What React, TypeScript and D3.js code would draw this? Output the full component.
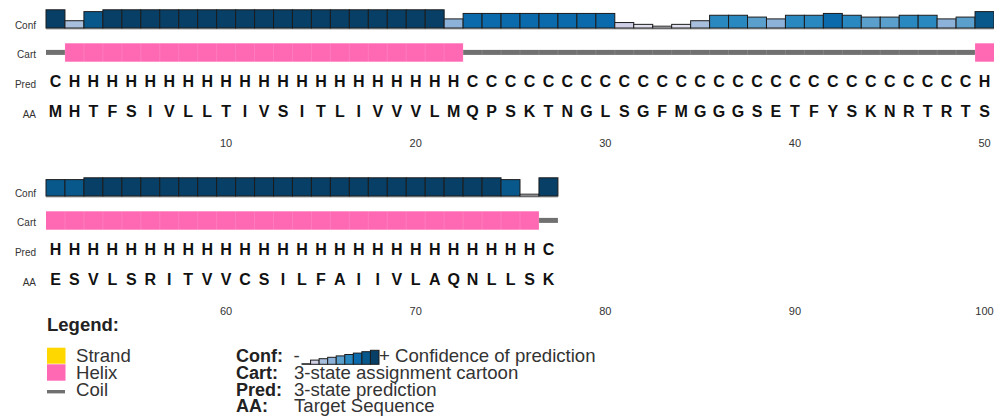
import React from "react";
import * as d3 from "d3";

// Target sequence, 3-state prediction (H helix, E strand, C coil) and per-residue confidence 0-9
const SEQUENCE = "MHTFSIVLLTIVSITLIVVVLMQPSKTNGLSGFMGGGSETFYSKNRTRTSESVLSRITVVCSILFAIIVLAQNLLSK".split("");
const PREDICTION = "CHHHHHHHHHHHHHHHHHHHHHCCCCCCCCCCCCCCCCCCCCCCCCCCCHHHHHHHHHHHHHHHHHHHHHHHHHHHC".split("");
const CONFIDENCE = [
  9, 3, 8, 9, 9, 9, 9, 9, 9, 9, 9, 9, 9, 9, 9, 9, 9, 9, 9, 9, 9, 4, 7, 7, 7, 7, 7, 7, 7, 7,
  2, 1, 0, 1, 3, 6, 6, 5, 4, 6, 6, 7, 6, 5, 5, 6, 6, 4, 5, 8,
  8, 8, 9, 9, 9, 9, 9, 9, 9, 9, 9, 9, 9, 9, 9, 9, 9, 9, 9, 9, 9, 9, 9, 9, 8, 0, 9,
];
const ROW_LENGTH = 50;
const TICK_STEP = 10;
const LEGEND_LEVELS = [0, 2, 3, 4, 5, 6, 7, 8, 9];

const CONF_COLOURS = [
  "#f2f0f7", "#e2e1ef", "#cfd0e5", "#a7bedd", "#8db2d9",
  "#5b9fcd", "#2a88c1", "#0b6aab", "#08588c", "#073f66",
];
const HELIX = "#ff69b4";
const STRAND = "#ffd700";
const COIL = "#707070";
const FONT = "'Liberation Sans', Arial, Helvetica, sans-serif";

const W = 994;
const H = 418;
const ROW_OFFSET = 168;

const x = d3
  .scaleBand<number>()
  .domain(d3.range(1, ROW_LENGTH + 1))
  .range([46, W])
  .paddingInner(0)
  .paddingOuter(0);
const bw = x.bandwidth();
const confHeight = d3.scaleLinear().domain([-1, 9]).range([0, 18.2]);
const legendX = d3.scaleBand<number>().domain(d3.range(LEGEND_LEVELS.length)).range([302, 379]);
const legendHeight = d3.scaleLinear().domain([-1, 9]).range([0, 14]);

type Residue = { idx: number; pos: number; aa: string; ss: string; conf: number };

const residues: Residue[] = SEQUENCE.map((aa, i) => ({
  idx: i + 1,
  pos: (i % ROW_LENGTH) + 1,
  aa,
  ss: PREDICTION[i],
  conf: CONFIDENCE[i],
}));
const rows = d3.groups(residues, (r) => Math.floor((r.idx - 1) / ROW_LENGTH)).map((g) => g[1]);

function segments(row: Residue[]) {
  const out: { ss: string; start: number; end: number }[] = [];
  row.forEach((r) => {
    const last = out[out.length - 1];
    if (last && last.ss === r.ss && last.end === r.pos - 1) last.end = r.pos;
    else out.push({ ss: r.ss, start: r.pos, end: r.pos });
  });
  return out;
}

function Row({ row, index }: { row: Residue[]; index: number }) {
  const base = index * ROW_OFFSET;
  const confBase = 28;
  const cartMid = 52.5;
  const ticks = d3.range(TICK_STEP, ROW_LENGTH + 1, TICK_STEP);
  const first = row[0].pos;
  const last = row[row.length - 1].pos;
  return (
    <g transform={`translate(0,${base})`}>
      {[
        ["Conf", 28.6],
        ["Cart", 58.2],
        ["Pred", 88.2],
        ["AA", 118],
      ].map(([t, y]) => (
        <text key={t as string} x={36} y={y as number} textAnchor="end" fontSize={10} fill="#333" fontFamily={FONT}>
          {t}
        </text>
      ))}

      {/* confidence bars */}
      <rect x={x(first)!} y={confBase} width={x(last)! + bw - x(first)!} height={1.6} fill="#b5b5b5" />
      {row.map((r) => {
        const h = confHeight(r.conf);
        return (
          <rect
            key={`c${r.idx}`}
            x={x(r.pos)!}
            y={confBase - h}
            width={bw}
            height={h}
            fill={CONF_COLOURS[r.conf]}
            stroke="#1c1c1c"
            strokeWidth={1}
          />
        );
      })}

      {/* cartoon */}
      {segments(row).map((s) => {
        const x0 = x(s.start)!;
        const x1 = x(s.end)! + bw;
        if (s.ss === "H")
          return <rect key={`s${s.start}`} x={x0} y={43.3} width={x1 - x0} height={18.4} fill={HELIX} />;
        if (s.ss === "E")
          return <rect key={`s${s.start}`} x={x0} y={43.3} width={x1 - x0} height={18.4} fill={STRAND} />;
        return <rect key={`s${s.start}`} x={x0} y={cartMid - 2.6} width={x1 - x0} height={5} fill={COIL} />;
      })}
      {row.slice(1).map((r) => (
        <line
          key={`g${r.idx}`}
          x1={x(r.pos)!}
          x2={x(r.pos)!}
          y1={32}
          y2={62}
          stroke="#fff"
          strokeOpacity={0.12}
        />
      ))}

      {/* prediction and sequence letters */}
      {row.map((r) => (
        <text
          key={`p${r.idx}`}
          x={x(r.pos)! + bw / 2}
          y={87.3}
          textAnchor="middle"
          fontSize={16}
          fontWeight="bold"
          fill="#111"
          fontFamily={FONT}
        >
          {r.ss}
        </text>
      ))}
      {row.map((r) => (
        <text
          key={`a${r.idx}`}
          x={x(r.pos)! + bw / 2}
          y={117.3}
          textAnchor="middle"
          fontSize={16}
          fontWeight="bold"
          fill="#111"
          fontFamily={FONT}
        >
          {r.aa}
        </text>
      ))}

      {/* residue numbering */}
      {ticks.map((t) => (
        <text
          key={`t${t}`}
          x={x(t)! + bw / 2}
          y={146.5}
          textAnchor="middle"
          fontSize={11}
          fill="#333"
          fontFamily={FONT}
        >
          {t + index * ROW_LENGTH}
        </text>
      ))}
    </g>
  );
}

function Legend() {
  const rowsY = [361.5, 378.5, 395.5, 412.2];
  const desc = [
    ["Conf:", ""],
    ["Cart:", "3-state assignment cartoon"],
    ["Pred:", "3-state prediction"],
    ["AA:", "Target Sequence"],
  ];
  const legBase = 364.3;
  const fs = 18.6;
  return (
    <g fontFamily={FONT}>
      <text x={47} y={331} fontSize={18.5} fontWeight="bold" fill="#222">
        Legend:
      </text>
      <rect x={47} y={347.7} width={18.5} height={16} fill={STRAND} />
      <rect x={47} y={364.3} width={18.5} height={16.4} fill={HELIX} />
      <rect x={47} y={390} width={18} height={3.4} fill={COIL} />
      {["Strand", "Helix", "Coil"].map((t, i) => (
        <text key={t} x={76} y={rowsY[i]} fontSize={fs} fill="#333">
          {t}
        </text>
      ))}
      {desc.map(([k, v], i) => (
        <g key={k}>
          <text x={236} y={rowsY[i]} fontSize={18} fontWeight="bold" fill="#222">
            {k}
          </text>
          {v && (
            <text x={294} y={rowsY[i]} fontSize={fs} fill="#333">
              {v}
            </text>
          )}
        </g>
      ))}
      <text x={293.5} y={rowsY[0]} fontSize={fs} fill="#333">
        -
      </text>
      {LEGEND_LEVELS.map((lv, i) => {
        const h = legendHeight(lv === 0 ? -0.6 : lv);
        return (
          <rect
            key={`l${lv}`}
            x={legendX(i)!}
            y={legBase - h}
            width={legendX.bandwidth()}
            height={h}
            fill={CONF_COLOURS[lv]}
            stroke="#1c1c1c"
            strokeWidth={1}
          />
        );
      })}
      <text x={379} y={rowsY[0]} fontSize={fs} fill="#333">
        + Confidence of prediction
      </text>
    </g>
  );
}

export default function App() {
  return (
    <svg
      width={W}
      height={H}
      viewBox={`0 0 ${W} ${H}`}
      style={{ position: "absolute", left: 0, top: 0, background: "#fff" }}
    >
      <rect width={W} height={H} fill="#fff" />
      {rows.map((row, i) => (
        <Row key={i} row={row} index={i} />
      ))}
      <Legend />
    </svg>
  );
}
